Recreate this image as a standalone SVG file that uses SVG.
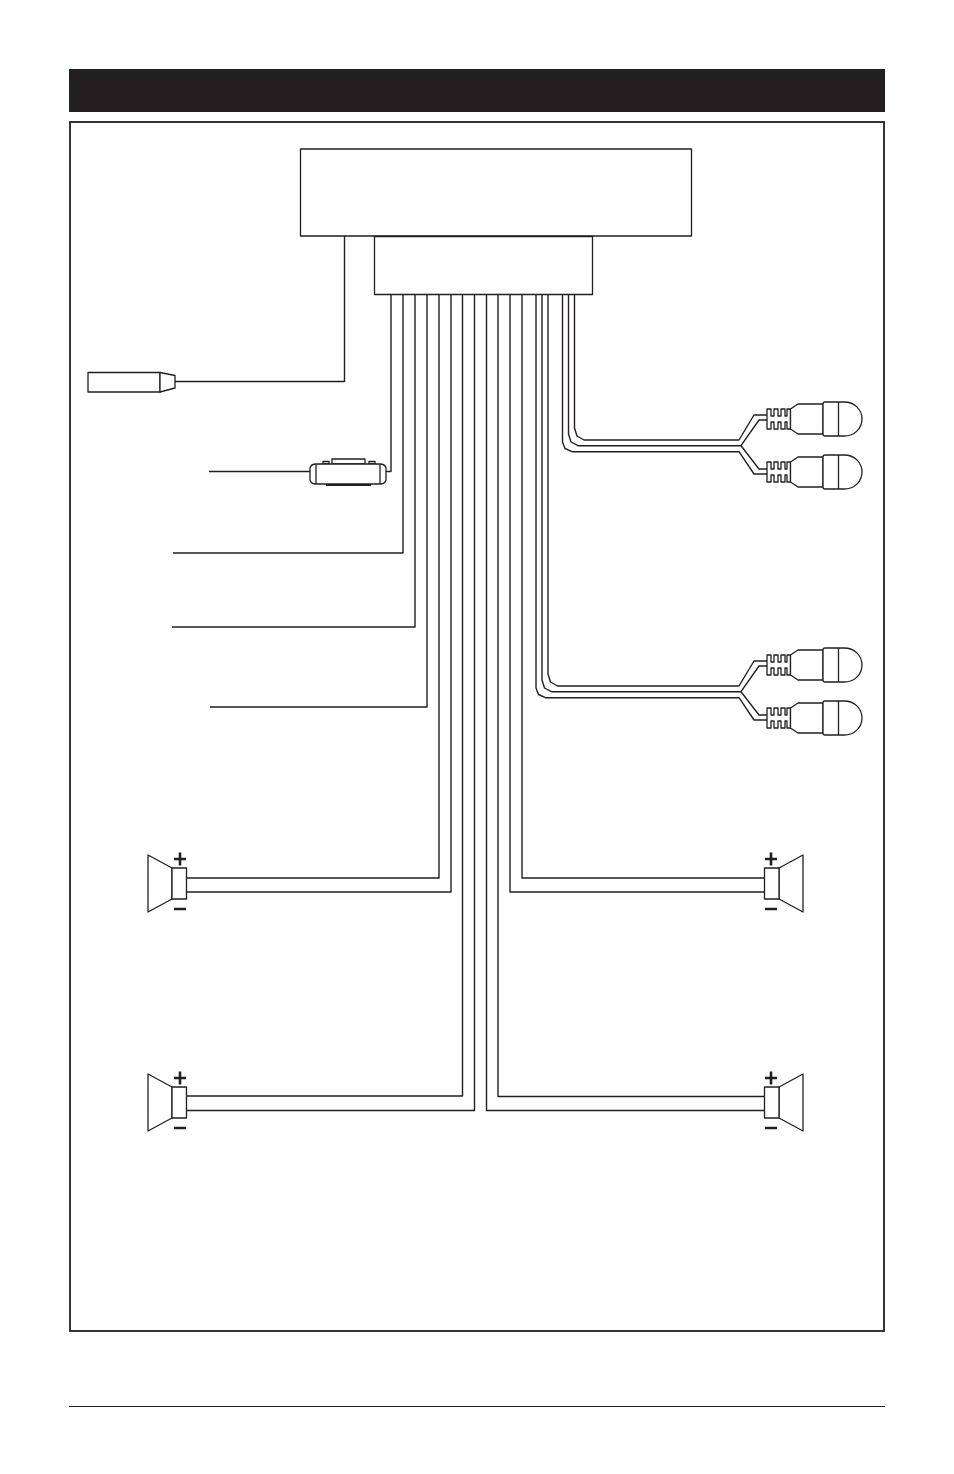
<svg xmlns="http://www.w3.org/2000/svg" xmlns:xlink="http://www.w3.org/1999/xlink" width="954" height="1474" viewBox="0 0 954 1474">
<style>
.l{fill:none;stroke:#231f20;stroke-width:1.3;stroke-linejoin:round}
.b{fill:#fff;stroke:#231f20;stroke-width:1.3;stroke-linejoin:round}
.w{fill:none;stroke:#231f20;stroke-width:1.4;stroke-linejoin:round}
.t{fill:none;stroke:#231f20;stroke-width:2.6;stroke-linecap:butt}
</style>
<defs>
<g id="plug">
<path class="b" d="M767 -10H771V-3H774V-10H778V-3H781V-10H785V-3H787V-10H790.500V10H787V3H785V10H781V3H778V10H774V3H771V10H767Z"/>
<path class="b" d="M790.500 -10L798 -15H823V15H798L790.500 10Z"/>
<path class="b" d="M823 -15Q823 -17 825 -17H844C855 -17 862 -9 862 0C862 9 855 17 844 17H825Q823 17 823 15Z"/>
<path class="l" d="M838.500 -17V17"/>
</g>
<g id="spkL">
<path class="b" d="M148 -29L172 -16V15L148 28Z"/>
<rect class="b" x="172" y="-16" width="14.500" height="31"/>
<path class="t" d="M174 -25H186M180 -31.500V-18.500M174 25H186"/>
</g>
<g id="spkR">
<path class="b" d="M803 -29L779 -16V15L803 28Z"/>
<rect class="b" x="764.500" y="-16" width="14.500" height="31"/>
<path class="t" d="M765 -25H777M771 -31.500V-18.500M765 25H777"/>
</g>
</defs>

<g id="header"><rect x="69" y="69" width="816" height="43" fill="#231f20"/></g>
<g id="frame"><rect x="70" y="122" width="814" height="1209" fill="#fff" stroke="#231f20" stroke-width="1.8"/></g>
<g id="footer-rule"><path d="M69 1406.500H885" stroke="#231f20" stroke-width="1" fill="none"/></g>

<g id="connectors">
<path class="w" d="M344.500 236V381.500H175"/>
<path class="w" d="M391 294V471.500H386"/>
<path class="w" d="M310 471.500H209"/>
<path class="w" d="M403 294V553H173"/>
<path class="w" d="M415 294V627H172"/>
<path class="w" d="M427 294V707H210"/>
<path class="w" d="M439 294V878H187"/>
<path class="w" d="M451 294V892H187"/>
<path class="w" d="M462.500 294V1096H187"/>
<path class="w" d="M474.500 294V1110.500H187"/>
<path class="w" d="M486.500 294V1110.500H765"/>
<path class="w" d="M498 294V1096.500H765"/>
<path class="w" d="M510 294V892H765"/>
<path class="w" d="M522 294V878H765"/>
<path class="w" d="M574.500 294V428L577 436L584 440H739L754 415H767"/>
<path class="w" d="M568.500 294V434L571 442L578 445.700H741L759 420H767"/>
<path class="w" d="M562.500 294V442L565 448.500L572 451.700H739L754 474H767"/>
<path class="w" d="M741 445.700L759 469H767"/>
<path class="w" d="M548 294V674L550.500 682L557.500 686H739L754 661H767"/>
<path class="w" d="M542 294V680L544.500 688L551.500 691.700H741L759 666H767"/>
<path class="w" d="M536 294V688L538.500 694.500L545.500 697.700H739L754 720H767"/>
<path class="w" d="M741 691.700L759 715H767"/>
</g>

<g id="head-unit"><rect class="b" x="300.500" y="149" width="391" height="87"/></g>
<g id="harness-block"><rect class="b" x="374.500" y="236.500" width="218" height="58"/></g>

<g id="antenna-plug">
<rect class="b" x="88" y="372.500" width="72" height="19.500"/>
<path class="b" d="M160 372.500L175 375.500V388L160 392Z"/>
</g>
<g id="fuse">
<path class="b" d="M332 464V459H365V464ZM323 464V461.500H329V464ZM369 464V461.500H375V464Z"/>
<rect x="326" y="483.500" width="45" height="2.500" fill="#231f20"/>
<path class="b" d="M310 468Q311 464 316 464H380Q385 464 386 468V480Q385 484 380 484H316Q311 484 310 480Z"/>
<path class="l" d="M316 464V484M380 464V484"/>
</g>

<g id="rca-1"><use href="#plug" y="419"/></g>
<g id="rca-2"><use href="#plug" y="472"/></g>
<g id="rca-3"><use href="#plug" y="665"/></g>
<g id="rca-4"><use href="#plug" y="718"/></g>

<g id="speaker-fl"><use href="#spkL" y="884"/></g>
<g id="speaker-rl"><use href="#spkL" y="1103"/></g>
<g id="speaker-fr"><use href="#spkR" y="884"/></g>
<g id="speaker-rr"><use href="#spkR" y="1103"/></g>
</svg>
